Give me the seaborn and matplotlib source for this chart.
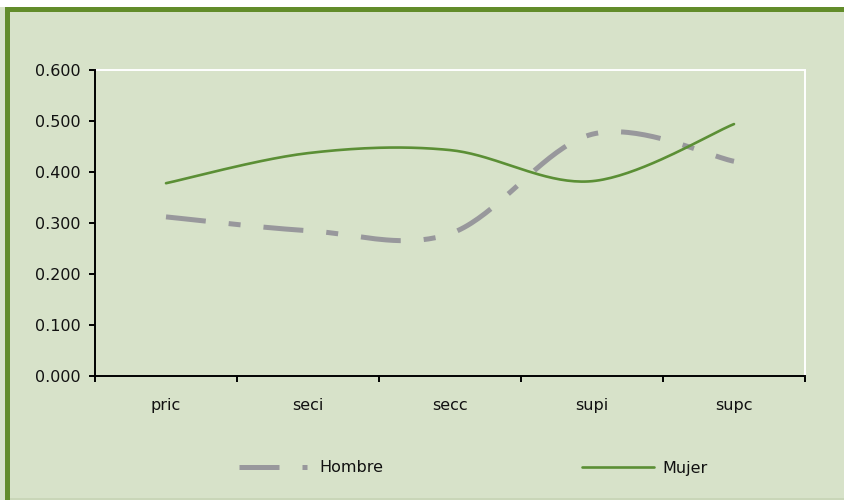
import numpy as np
import pandas as pd
import matplotlib
matplotlib.use("Agg")
import matplotlib.pyplot as plt
from matplotlib.patches import Rectangle
from matplotlib.lines import Line2D
import seaborn as sns

categories = ["pric", "seci", "secc", "supi", "supc"]
hombre = [0.312, 0.285, 0.279, 0.474, 0.421]
mujer = [0.378, 0.437, 0.443, 0.382, 0.494]
yticks = [0.0, 0.1, 0.2, 0.3, 0.4, 0.5, 0.6]
series_names = ["Hombre", "Mujer"]

BG = "#d7e2c9"
BORDER = "#628c2a"
C_H = "#98989c"
C_M = "#5b8f35"

sns.set_theme(style="white")
plt.rcParams["font.family"] = ["DejaVu Sans"]
FS = 11.5


def smooth(xs, ys, n=40):
    """Excel-like smoothed line (Catmull-Rom Bezier) through the data points."""
    P = np.column_stack([xs, ys]).astype(float)
    out = []
    for i in range(len(P) - 1):
        p0 = P[i - 1] if i > 0 else P[i]
        p1, p2 = P[i], P[i + 1]
        p3 = P[i + 2] if i + 2 < len(P) else P[i + 1]
        c1 = p1 + (p2 - p0) / 6.0
        c2 = p2 - (p3 - p1) / 6.0
        t = np.linspace(0, 1, n, endpoint=(i == len(P) - 2))[:, None]
        seg = ((1 - t) ** 3) * p1 + 3 * ((1 - t) ** 2) * t * c1 + 3 * (1 - t) * t ** 2 * c2 + t ** 3 * p2
        out.append(seg)
    out = np.vstack(out)
    return out[:, 0], out[:, 1]


fig = plt.figure(figsize=(8.45, 5.0), dpi=100)
fig.patch.set_facecolor(BG)
W, H = 845.0, 500.0
# white strip on top, green frame
fig.patches.append(Rectangle((0, (H - 7) / H), 1, 7 / H, transform=fig.transFigure,
                             facecolor="white", edgecolor="none", zorder=0))
fig.patches.append(Rectangle((5 / W, (H - 12) / H), 1, 5 / H, transform=fig.transFigure,
                             facecolor=BORDER, edgecolor="none", zorder=1))
fig.patches.append(Rectangle((5 / W, 0), 5 / W, (H - 7) / H, transform=fig.transFigure,
                             facecolor=BORDER, edgecolor="none", zorder=1))
fig.patches.append(Rectangle((10 / W, 0), 1, 2 / H, transform=fig.transFigure,
                             facecolor="#c9d6b8", edgecolor="none", zorder=1))

ax = fig.add_axes([95 / W, (H - 376) / H, 710 / W, 306 / H])
ax.set_facecolor(BG)

xpos = np.arange(len(categories)) + 0.5
frames = []
for name, vals in zip(series_names, [hombre, mujer]):
    sx, sy = smooth(xpos, vals)
    frames.append(pd.DataFrame({"x": sx, "y": sy, "serie": name}))
df = pd.concat(frames, ignore_index=True)

sns.lineplot(data=df[df.serie == "Hombre"], x="x", y="y", sort=False, estimator=None,
             color=C_H, linewidth=3.6, ax=ax, legend=False)
lh = ax.lines[-1]
lh.set_linestyle((0, (8, 4.6, 2.4, 4.6)))
lh.set_dash_capstyle("butt")
sns.lineplot(data=df[df.serie == "Mujer"], x="x", y="y", sort=False, estimator=None,
             color=C_M, linewidth=1.9, ax=ax, legend=False)

ax.set_xlim(0, len(categories))
ax.set_ylim(0, 0.6)
ax.set_yticks(yticks)
ax.set_yticklabels([f"{v:.3f}" for v in yticks])
ax.set_xticks(np.arange(len(categories) + 1))
ax.set_xticklabels([])
ax.set_xticks(xpos, minor=True)
ax.set_xticklabels(categories, minor=True)
ax.set_xlabel("")
ax.set_ylabel("")

for s in ["left", "bottom"]:
    ax.spines[s].set_color("black")
    ax.spines[s].set_linewidth(1.4)
for s in ["top", "right"]:
    ax.spines[s].set_color("white")
    ax.spines[s].set_linewidth(1.4)
ax.spines["left"].set_zorder(5)
ax.spines["bottom"].set_zorder(5)

ax.tick_params(axis="y", which="major", direction="out", length=4.5, width=1.4,
               color="black", left=True, labelsize=FS, labelcolor="#111111", pad=6)
ax.tick_params(axis="x", which="major", direction="out", length=4.5, width=1.4,
               color="black", bottom=True)
ax.tick_params(axis="x", which="minor", length=0, bottom=True, labelsize=FS,
               labelcolor="#111111", pad=16)

handles = [Line2D([], [], color=C_H, linewidth=3.6, linestyle=(0, (8, 4.6, 1.0, 4.6)),
                  dash_capstyle="butt"),
           Line2D([], [], color=C_M, linewidth=1.9)]
leg = fig.legend(handles, series_names, loc="center left",
                 bbox_to_anchor=(239 / W, (H - 468) / H), ncol=2, frameon=False,
                 fontsize=FS, handlelength=4.5, handletextpad=0.55,
                 columnspacing=12.4, borderpad=0, borderaxespad=0)
for t in leg.get_texts():
    t.set_color("#111111")

fig.savefig("out.png", dpi=100, facecolor=fig.get_facecolor())
